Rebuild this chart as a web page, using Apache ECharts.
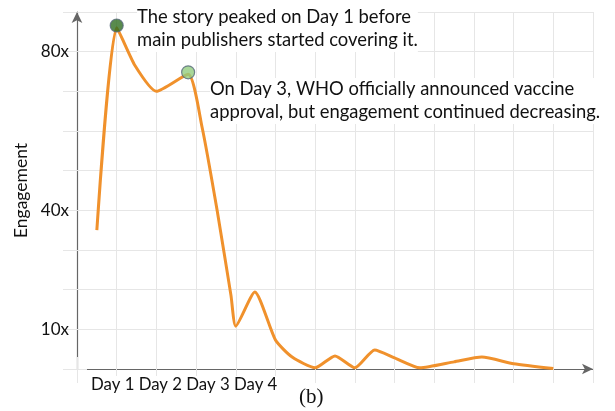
<!DOCTYPE html>
<html>
<head>
<meta charset="utf-8">
<script src="https://cdn.jsdelivr.net/npm/echarts@6/dist/echarts.min.js"></script>
<style>
html,body{margin:0;padding:0;background:#fff;}
#chart{width:615px;height:411px;}
</style>
</head>
<body>
<div id="chart"></div>
<script>
// Data (x in grid steps, engagement in "x" units)
const timeX = [0.5, 1.0, 1.46, 2.0, 2.8, 3.15, 3.53, 3.88, 4.0, 4.48, 5.0, 5.42, 6.0, 6.5, 7.0, 7.5, 8.0, 8.64, 9.5, 10.2, 11.0, 12.0];
const engagement = [35, 86, 76.5, 70, 74.3, 61, 40, 18.5, 10.8, 19.4, 7.3, 3.0, 0.3, 3.3, 0.3, 4.8, 2.8, 0.3, 1.8, 3.0, 1.3, 0.1];
const highlightX = [1.0, 2.8];
const highlightY = [86.6, 74.8];
const highlightColors = ['#2f6e22', '#92cd7f'];
const yTickValues = [10, 40, 80];
const yTickLabels = ['10x', '40x', '80x'];
const dayLabels = ['Day 1', 'Day 2', 'Day 3', 'Day 4'];
const note1 = ['The story peaked on Day 1 before', 'main publishers started covering it.'];
const note2 = ['On Day 3, WHO officially announced vaccine', 'approval, but engagement continued decreasing.'];
const caption = '(b)';

const FONT = 'Lato';
const GRIDC = '#e6e6e6';
const chart = echarts.init(document.getElementById('chart'));
chart.setOption({
  animation: false,
  backgroundColor: '#fff',
  grid: { left: 77, right: 22, top: 12, bottom: 42 },
  xAxis: [{
    type: 'value', min: 0, max: 13, interval: 1, position: 'bottom',
    axisLine: { show: true, symbol: ['none', 'arrow'], symbolSize: [8, 11], lineStyle: { color: '#666', width: 1.2 } },
    axisTick: { show: true, length: 14, lineStyle: { color: GRIDC } },
    axisLabel: { show: false },
    splitLine: { show: true, lineStyle: { color: GRIDC, width: 1 } }
  }, {
    type: 'value', min: 0, max: 13, interval: 1, position: 'top',
    axisLine: { show: false },
    axisTick: { show: true, length: 12, lineStyle: { color: GRIDC } },
    axisLabel: { show: false },
    splitLine: { show: false }
  }],
  yAxis: [{
    type: 'value', min: 0, max: 90, interval: 10, position: 'left',
    name: 'Engagement', nameLocation: 'middle', nameGap: 44, nameRotate: 90,
    nameTextStyle: { fontFamily: FONT, fontSize: 17.5, color: '#111' },
    axisLine: { show: true, symbol: ['none', 'arrow'], symbolSize: [8, 11], lineStyle: { color: '#666', width: 1.2 } },
    axisTick: { show: true, length: 14, lineStyle: { color: GRIDC } },
    axisLabel: {
      fontFamily: FONT, fontSize: 17, color: '#111', margin: 8,
      formatter: function (v) { const i = yTickValues.indexOf(v); return i >= 0 ? yTickLabels[i] : ''; }
    },
    splitLine: { show: true, lineStyle: { color: GRIDC, width: 1 } }
  }, {
    type: 'value', min: 0, max: 90, interval: 10, position: 'right',
    axisLine: { show: false },
    axisTick: { show: true, length: 10, lineStyle: { color: GRIDC } },
    axisLabel: { show: false },
    splitLine: { show: false }
  }],
  series: [
    {
      type: 'line', data: timeX.map((x, i) => [x, engagement[i]]),
      smooth: 0.2, showSymbol: false, symbol: 'none',
      lineStyle: { color: '#f0912c', width: 3 }, z: 3
    },
    {
      type: 'scatter', data: highlightX.map((x, i) => ({ value: [x, highlightY[i]], itemStyle: { color: highlightColors[i] } })),
      symbolSize: 13,
      itemStyle: { borderColor: '#56687a', borderWidth: 1.2 }, z: 4
    }
  ],
  graphic: [
    { type: 'text', left: 137, top: 6, z: 10, style: { text: note1.join('\n'), font: '18.4px ' + FONT, fill: '#111', lineHeight: 23, backgroundColor: '#fff' } },
    { type: 'text', left: 210, top: 78, z: 10, style: { text: note2.join('\n'), font: '18.4px ' + FONT, fill: '#111', lineHeight: 23, backgroundColor: '#fff' } },
    { type: 'text', left: 91, top: 376, z: 10, style: { text: dayLabels.join(' '), font: '16.8px ' + FONT, fill: '#111', backgroundColor: '#fff' } },
    { type: 'text', left: 299, top: 387, z: 10, style: { text: caption, font: '21px "Liberation Serif"', fill: '#111' } }
  ]
});
</script>
</body>
</html>
